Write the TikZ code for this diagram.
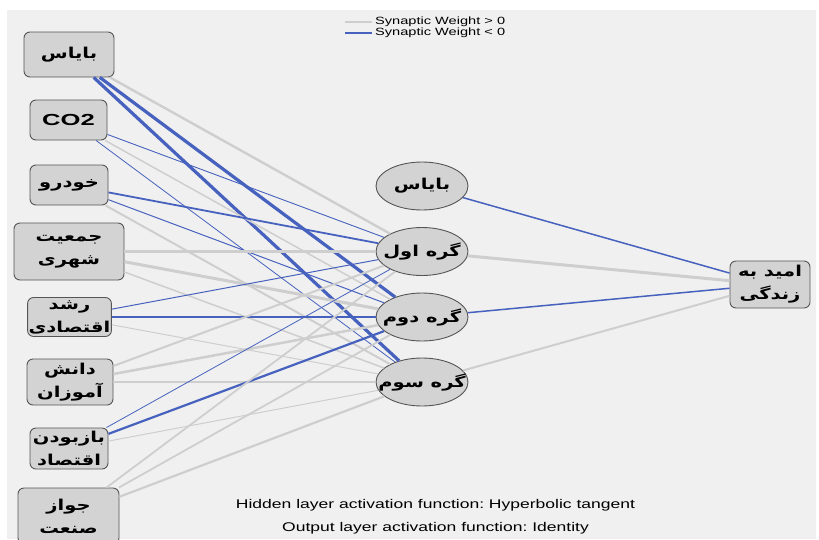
\documentclass[tikz,border=0pt]{standalone}
\usepackage{graphicx}
\usepackage{fontspec}
\setmainfont{Liberation Sans}
\newfontfamily\farsi[Script=Arabic]{DejaVu Sans}
\TeXXeTstate=1
\frenchspacing
\usetikzlibrary{shapes.geometric,positioning}

\definecolor{bggray}{RGB}{240,240,240}
\definecolor{boxfill}{RGB}{211,211,211}
\definecolor{boxborder}{RGB}{85,85,85}
\definecolor{posgray}{RGB}{206,206,206}
\definecolor{negblue}{RGB}{70,98,190}

\newcommand{\fa}[1]{\scalebox{1.3}[1]{\farsi\bfseries #1}}
\newcommand{\en}[2]{\scalebox{1.39}[1]{\fontsize{#1}{#1}\selectfont #2}}

\tikzstyle{inbox} = [draw=boxborder,fill=boxfill,line width=0.9pt,rounded corners=6pt,inner sep=1pt,align=center,font=\fontsize{15}{23}\selectfont]
\tikzstyle{hidnode} = [draw=boxborder,fill=boxfill,line width=0.9pt,ellipse,inner sep=0pt,minimum width=92pt,minimum height=48pt]
\tikzstyle{hidtext} = [font=\fontsize{15}{23}\selectfont]
\tikzstyle{wplus} = [draw=posgray]
\tikzstyle{wminus} = [draw=negblue]

\begin{document}
\begin{tikzpicture}[x=1pt,y=-1pt]
   \useasboundingbox (0,0) rectangle (819,539);
   \fill[bggray] (7,10) rectangle (816,539);

   % input layer
   \node[inbox,minimum width=90pt,minimum height=45pt] (binput) at (69,54.5) {\fa{\beginR بایاس\endR}};
   \node[inbox,minimum width=77pt,minimum height=40pt] (co2) at (68.5,120) {\scalebox{1.6}[1]{\fontsize{16}{16}\selectfont\bfseries CO2}};
   \node[inbox,minimum width=78pt,minimum height=40pt] (khodro) at (69,185) {\fa{\beginR خودرو\endR}};
   \node[inbox,minimum width=110pt,minimum height=57pt] (jamiat) at (69,251.5) {\fa{\beginR جمعیت\endR}\\\fa{\beginR شهری\endR}};
   \node[inbox,minimum width=75pt,minimum height=39pt] (roshd) at (69.5,317) {\fa{\beginR رشد\endR}\\\fa{\beginR اقتصادی\endR}};
   \node[inbox,minimum width=86pt,minimum height=46pt] (danesh) at (70,382) {\fa{\beginR دانش\endR}\\\fa{\beginR آموزان\endR}};
   \node[inbox,minimum width=78pt,minimum height=41pt] (baz) at (69,448.5) {\fa{\beginR بازبودن\endR}\\\fa{\beginR اقتصاد\endR}};
   \node[inbox,minimum width=101pt,minimum height=56pt] (javaz) at (68.5,516) {\fa{\beginR جواز\endR}\\\fa{\beginR صنعت\endR}};

   % hidden layer
   \node[hidnode,label={[hidtext]center:\fa{\beginR بایاس\endR}}] (bhidden) at (422,186) {};
   \node[hidnode,label={[hidtext]center:\fa{\beginR گره اول\endR}}] (h1) at (422,251.5) {};
   \node[hidnode,label={[hidtext]center:\fa{\beginR گره دوم\endR}}] (h2) at (422,317) {};
   \node[hidnode,label={[hidtext]center:\fa{\beginR گره سوم\endR}}] (h3) at (422,382) {};

   % output layer
   \node[inbox,minimum width=80pt,minimum height=47pt] (amid) at (770,284.5) {\fa{\beginR امید به\endR}\\\fa{\beginR زندگی\endR}};

   % synaptic weights
   \path[wplus,line width=2.4pt] (binput) edge (h1);
   \path[wminus,line width=3.2pt] (binput) edge (h2);
   \path[wminus,line width=3.2pt] (binput) edge (h3);
   \path[wminus,line width=0.9pt] (co2) edge (h1);
   \path[wplus,line width=1.5pt] (co2) edge (h2);
   \path[wminus,line width=0.8pt] (co2) edge (h3);
   \path[wminus,line width=1.8pt] (khodro) edge (h1);
   \path[wminus,line width=1pt] (khodro) edge (h2);
   \path[wplus,line width=2pt] (khodro) edge (h3);
   \path[wplus,line width=2.4pt] (jamiat) edge (h1);
   \path[wplus,line width=3pt] (jamiat) edge (h2);
   \path[wplus,line width=1.5pt] (jamiat) edge (h3);
   \path[wminus,line width=1pt] (roshd) edge (h1);
   \path[wminus,line width=1.3pt] (roshd) edge (h2);
   \path[wplus,line width=1pt] (roshd) edge (h3);
   \path[wplus,line width=2pt] (danesh) edge (h1);
   \path[wplus,line width=2.5pt] (danesh) edge (h2);
   \path[wplus,line width=2pt] (danesh) edge (h3);
   \path[wminus,line width=0.8pt] (baz) edge (h1);
   \path[wminus,line width=2.2pt] (baz) edge (h2);
   \path[wplus,line width=1pt] (baz) edge (h3);
   \path[wplus,line width=1.8pt] (javaz) edge (h1);
   \path[wplus,line width=1.8pt] (javaz) edge (h2);
   \path[wplus,line width=2.2pt] (javaz) edge (h3);
   \path[wminus,line width=1.5pt] (bhidden) edge (amid);
   \path[wplus,line width=3pt] (h1) edge (amid);
   \path[wminus,line width=1.5pt] (h2) edge (amid);
   \path[wplus,line width=2pt] (h3) edge (amid);

   % legend
   \node[anchor=west,inner sep=3pt] (legplus) at (372,22) {\en{10.5}{Synaptic Weight > 0}};
   \node[anchor=west,inner sep=3pt] (legminus) at (372,33) {\en{10.5}{Synaptic Weight < 0}};
   \coordinate (lgplus) at (345,22);
   \coordinate (lgminus) at (345,33);
   \draw[posgray,line width=1.3pt] (lgplus) -- (legplus.west);
   \draw[negblue,line width=1.3pt] (lgminus) -- (legminus.west);

   % activation functions
   \node (hidact) at (435.5,505) {\en{12.6}{Hidden layer activation function: Hyperbolic tangent}};
   \node (outact) at (435.5,528) {\en{12.6}{Output layer activation function: Identity}};
\end{tikzpicture}
\end{document}
